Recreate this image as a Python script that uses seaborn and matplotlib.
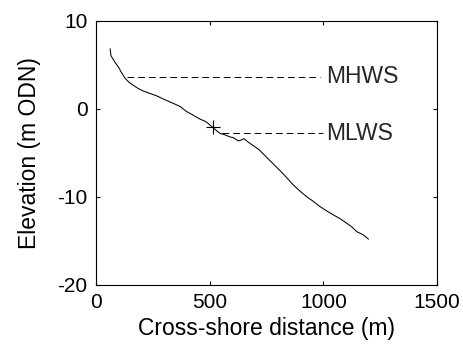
import matplotlib
matplotlib.use("Agg")
import matplotlib.pyplot as plt
import seaborn as sns
import pandas as pd

distance = [62, 66, 73, 85, 98, 112, 128, 145, 164, 185, 208, 235, 267, 300, 340, 370, 397, 425,
            455, 485, 517, 535, 546, 565, 589, 605, 626, 640, 651, 670, 689, 715, 748, 785,
            822, 845, 866, 895, 925, 955, 985, 1015, 1044, 1075, 1103, 1125, 1147, 1175, 1199]
elevation = [6.8, 6.0, 5.7, 5.2, 4.75, 4.1, 3.45, 3.0, 2.65, 2.3, 2.0, 1.75, 1.45, 1.05, 0.6, 0.25,
             -0.3, -0.7, -1.15, -1.5, -2.2, -2.6, -2.8, -2.95, -3.2, -3.3, -3.65, -3.55, -3.4,
             -3.8, -4.15, -4.6, -5.45, -6.4, -7.35, -8.0, -8.6, -9.3, -9.95, -10.5, -11.1,
             -11.6, -12.05, -12.5, -13.0, -13.4, -13.95, -14.3, -14.8]

levels = ["MHWS", "MLWS"]
level_elev = [3.6, -2.8]
level_start = [135, 553]
level_end = [985, 1000]
label_x = 1012

cross_x = [513]
cross_y = [-2.1]

xticks = [0, 500, 1000, 1500]
yticks = [-20, -10, 0, 10]

sns.set_theme(style="ticks")
plt.rcParams["font.family"] = ["Liberation Sans", "DejaVu Sans"]
plt.rcParams["axes.unicode_minus"] = False

fig = plt.figure(figsize=(4.63, 3.49), dpi=100)
ax = fig.add_axes([96 / 463, 1 - 285 / 349, (437 - 96) / 463, (285 - 20.5) / 349])

df = pd.DataFrame({"distance": distance, "elevation": elevation})
sns.lineplot(data=df, x="distance", y="elevation", ax=ax, color="black", lw=0.75, sort=False)

for name, y, x0, x1 in zip(levels, level_elev, level_start, level_end):
    ax.plot([x0, x1], [y, y], color="black", lw=0.7, dashes=(7, 4))
    ax.text(label_x, y, name, fontsize=16.5, va="center", ha="left")

ax.plot(cross_x, cross_y, marker="+", color="black", markersize=10.5, markeredgewidth=0.8, ls="none")

ax.set_xlim(0, 1500)
ax.set_ylim(-20, 10)
ax.set_xticks(xticks)
ax.set_yticks(yticks)
ax.tick_params(direction="in", length=3, width=0.8, labelsize=15, top=True, right=True,
               labeltop=False, labelright=False, pad=6, colors="black")
for s in ax.spines.values():
    s.set_visible(True)
    s.set_linewidth(0.8)
    s.set_color("black")
ax.set_xlabel("Cross-shore distance (m)", fontsize=16.5, color="black", labelpad=3)
ax.set_ylabel("Elevation (m ODN)", fontsize=16.5, color="black", labelpad=12)

fig.savefig("out.png", dpi=100)
